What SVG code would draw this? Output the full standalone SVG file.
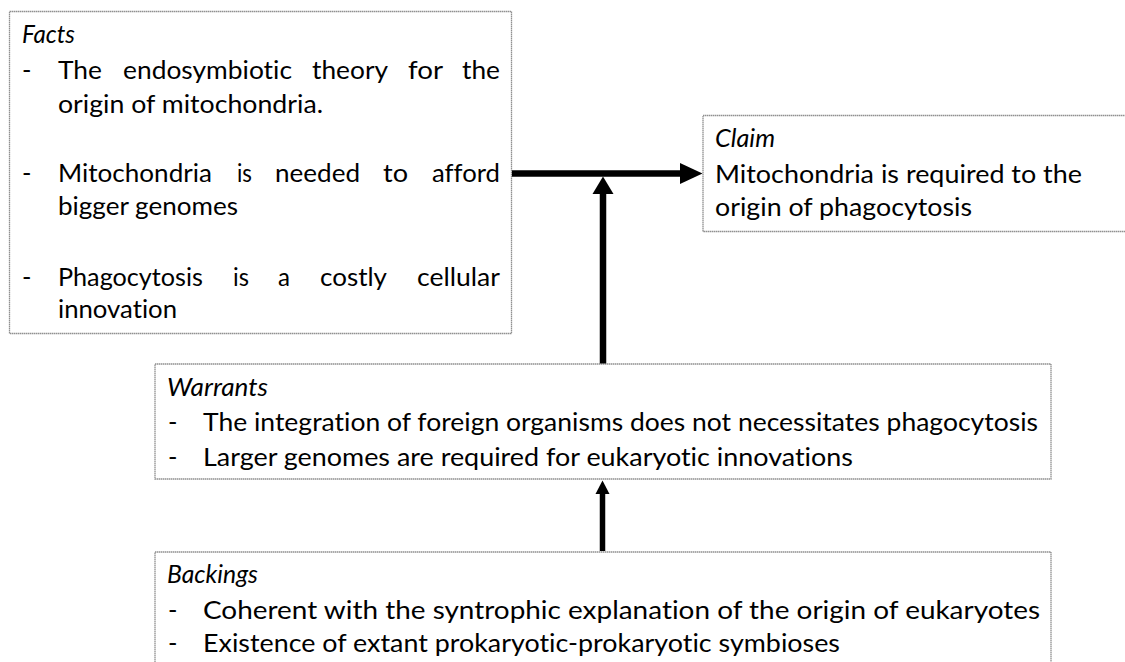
<svg xmlns="http://www.w3.org/2000/svg" width="1125" height="662" viewBox="0 0 1125 662">
<style>
.box{fill:#fff;stroke:#909090;stroke-width:1.3;stroke-dasharray:1.5 0.5}
text{font-family:Lato,"Open Sans","Liberation Sans",sans-serif;fill:#000;font-variant-ligatures:none;font-feature-settings:"liga" 0,"clig" 0,"dlig" 0,"calt" 0;letter-spacing:0.01px}
.t{font-size:25.5px}
.h{font-size:25px;font-style:italic}
.c{stroke:#000;stroke-width:6.5;fill:none}
.hd{fill:#000}
</style>
<rect width="1125" height="662" fill="#fff"/>
<g id="facts">
<rect class="box" x="9.5" y="11.5" width="502" height="322"/>
<text class="h" x="22" y="43" textLength="53" lengthAdjust="spacingAndGlyphs">Facts</text>
<text class="t" y="79"><tspan x="22">-</tspan><tspan x="58" textLength="44" lengthAdjust="spacingAndGlyphs">The</tspan><tspan x="123" textLength="169" lengthAdjust="spacingAndGlyphs">endosymbiotic</tspan><tspan x="312" textLength="76" lengthAdjust="spacingAndGlyphs">theory</tspan><tspan x="408" textLength="35" lengthAdjust="spacingAndGlyphs">for</tspan><tspan x="462" textLength="38" lengthAdjust="spacingAndGlyphs">the</tspan></text>
<text class="t" x="58" y="113" textLength="265" lengthAdjust="spacingAndGlyphs">origin of mitochondria.</text>
<text class="t" y="182"><tspan x="22">-</tspan><tspan x="58" textLength="154" lengthAdjust="spacingAndGlyphs">Mitochondria</tspan><tspan x="237" textLength="15" lengthAdjust="spacingAndGlyphs">is</tspan><tspan x="275" textLength="85" lengthAdjust="spacingAndGlyphs">needed</tspan><tspan x="383" textLength="25" lengthAdjust="spacingAndGlyphs">to</tspan><tspan x="432" textLength="68" lengthAdjust="spacingAndGlyphs">afford</tspan></text>
<text class="t" x="58" y="215" textLength="180" lengthAdjust="spacingAndGlyphs">bigger genomes</text>
<text class="t" y="286"><tspan x="22">-</tspan><tspan x="58" textLength="145" lengthAdjust="spacingAndGlyphs">Phagocytosis</tspan><tspan x="233" textLength="16" lengthAdjust="spacingAndGlyphs">is</tspan><tspan x="278" textLength="12" lengthAdjust="spacingAndGlyphs">a</tspan><tspan x="320" textLength="67" lengthAdjust="spacingAndGlyphs">costly</tspan><tspan x="417" textLength="83" lengthAdjust="spacingAndGlyphs">cellular</tspan></text>
<text class="t" x="58" y="318" textLength="119" lengthAdjust="spacingAndGlyphs">innovation</text>
</g>
<g id="claim">
<rect class="box" x="703" y="115.5" width="430" height="116"/>
<text class="h" x="715" y="147" textLength="60" lengthAdjust="spacingAndGlyphs">Claim</text>
<text class="t" x="715" y="183" textLength="367" lengthAdjust="spacingAndGlyphs">Mitochondria is required to the</text>
<text class="t" x="715" y="216" textLength="257" lengthAdjust="spacingAndGlyphs">origin of phagocytosis</text>
</g>
<g id="warrants">
<rect class="box" x="155" y="364" width="896" height="115"/>
<text class="h" x="167" y="396" textLength="101" lengthAdjust="spacingAndGlyphs">Warrants</text>
<text class="t" x="168" y="431">-</text>
<text class="t" x="203" y="431" textLength="835" lengthAdjust="spacingAndGlyphs">The integration of foreign organisms does not necessitates phagocytosis</text>
<text class="t" x="168" y="466">-</text>
<text class="t" x="203" y="466" textLength="650" lengthAdjust="spacingAndGlyphs">Larger genomes are required for eukaryotic innovations</text>
</g>
<g id="backings">
<rect class="box" x="155" y="552" width="896" height="130"/>
<text class="h" x="167" y="583" textLength="91" lengthAdjust="spacingAndGlyphs">Backings</text>
<text class="t" x="168" y="619">-</text>
<text class="t" x="203" y="619" textLength="837" lengthAdjust="spacingAndGlyphs">Coherent with the syntrophic explanation of the origin of eukaryotes</text>
<text class="t" x="168" y="652">-</text>
<text class="t" x="203" y="652" textLength="637" lengthAdjust="spacingAndGlyphs">Existence of extant prokaryotic-prokaryotic symbioses</text>
</g>
<g id="connectors">
<line class="c" x1="512" y1="173.5" x2="682" y2="173.5"/>
<polygon class="hd" points="680,163 702.5,173.5 680,184"/>
<line class="c" x1="603" y1="363.5" x2="603" y2="192"/>
<polygon class="hd" points="592.5,194 603,176.5 613.5,194"/>
<line class="c" x1="602.5" y1="551" x2="602.5" y2="492" style="stroke-width:5.5"/>
<polygon class="hd" points="595.5,494 602.5,480.5 609.5,494"/>
</g>
</svg>
